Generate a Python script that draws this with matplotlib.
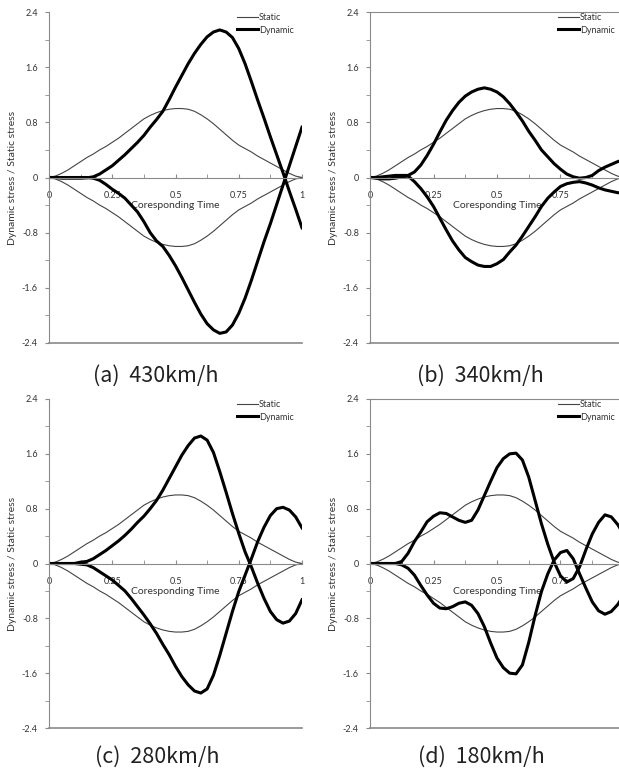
import matplotlib
matplotlib.use("Agg")
import matplotlib.pyplot as plt
from matplotlib.ticker import MultipleLocator, FixedFormatter, FixedLocator
import numpy as np

# DATA
# corresponding time (0 -> 1)
t = [0, .025, .05, .075, .1, .125, .15, .175, .2, .225, .25, .275, .3, .325, .35, .375, .4,
     .425, .45, .475, .5, .525, .55, .575, .6, .625, .65, .675, .7, .725, .75, .775, .8,
     .825, .85, .875, .9, .925, .95, .975, 1]

# static stress ratio (upper fibre, lower fibre is the mirror)
static = [0, .02, .06, .11, .17, .23, .29, .34, .40, .45, .51, .57, .64, .71, .78, .85, .90,
          .94, .97, .99, 1.0, 1.0, .99, .96, .91, .85, .78, .70, .62, .54, .47, .42, .37,
          .31, .26, .21, .16, .11, .06, .02, 0]

# (a) 430km/h
dyn_a_up = [0, 0, -.01, -.01, -.01, -.01, -.005, .01, .05, .11, .17, .25, .33, .42, .51, .61, .73,
            .84, .96, 1.13, 1.31, 1.48, 1.65, 1.80, 1.93, 2.04, 2.11, 2.14, 2.11, 2.03, 1.87, 1.65, 1.39,
            1.12, .86, .59, .33, .07, -.20, -.46, -.73]
dyn_a_lo = [0, 0, 0, 0, 0, 0, 0, -.01, -.04, -.10, -.17, -.23, -.30, -.40, -.50, -.64, -.80,
            -.92, -1.00, -1.13, -1.28, -1.45, -1.63, -1.81, -1.98, -2.12, -2.21, -2.26, -2.24, -2.14, -1.97, -1.75, -1.49,
            -1.21, -.93, -.67, -.39, -.11, .17, .45, .73]

# (b) 340km/h
dyn_b_up = [0, 0, .01, .02, .03, .03, .03, .08, .18, .32, .48, .66, .83, .97, 1.09, 1.18, 1.24,
            1.28, 1.30, 1.28, 1.24, 1.17, 1.07, .95, .82, .67, .54, .40, .30, .20, .12, .05, .01,
            -.01, 0, .03, .10, .15, .19, .23, .26]
dyn_b_lo = [0, -.01, -.02, -.02, -.01, .01, .02, -.06, -.16, -.28, -.42, -.59, -.76, -.92, -1.05, -1.16, -1.22,
            -1.27, -1.29, -1.29, -1.25, -1.19, -1.08, -.98, -.85, -.71, -.57, -.42, -.30, -.21, -.13, -.09, -.07,
            -.06, -.08, -.11, -.15, -.18, -.20, -.22, -.23]

# (c) 280km/h
dyn_c_up = [0, 0, 0, 0, 0, .02, .03, .07, .13, .19, .26, .33, .41, .50, .60, .69, .80,
            .92, 1.07, 1.24, 1.41, 1.58, 1.72, 1.83, 1.86, 1.80, 1.62, 1.34, 1.04, .73, .44, .17, -.05,
            -.29, -.51, -.70, -.82, -.87, -.84, -.73, -.53]
dyn_c_lo = [0, 0, 0, 0, 0, -.01, -.02, -.06, -.12, -.18, -.24, -.32, -.40, -.51, -.63, -.75, -.88,
            -1.02, -1.18, -1.33, -1.50, -1.65, -1.77, -1.86, -1.89, -1.83, -1.63, -1.34, -1.02, -.70, -.41, -.17, .07,
            .32, .53, .70, .80, .82, .78, .68, .52]

# (d) 180km/h
dyn_d_up = [0, 0, 0, 0, 0, .03, .15, .32, .46, .61, .69, .74, .73, .68, .63, .60, .63,
            .78, .99, 1.20, 1.40, 1.53, 1.60, 1.61, 1.51, 1.26, .92, .58, .28, .02, -.18, -.27, -.22,
            -.05, .20, .43, .60, .71, .68, .57, .42]
dyn_d_lo = [0, 0, 0, 0, 0, -.02, -.07, -.17, -.32, -.46, -.58, -.65, -.66, -.63, -.58, -.56, -.61,
            -.73, -.92, -1.16, -1.38, -1.52, -1.60, -1.61, -1.48, -1.15, -.76, -.41, -.15, .05, .16, .19, .07,
            -.15, -.36, -.56, -.69, -.74, -.70, -.60, -.46]

captions = ["(a)  430km/h", "(b)  340km/h", "(c)  280km/h", "(d)  180km/h"]
x_ticks = [0, 0.25, 0.5, 0.75, 1]
x_labels = ["0", "0.25", "0.5", "0.75", "1"]
y_ticks = [-2.4, -1.6, -0.8, 0, 0.8, 1.6, 2.4]
y_labels = ["-2.4", "-1.6", "-0.8", "0", "0.8", "1.6", "2.4"]

W, H = 619, 773
FONT = "Lato"
GRAY = "#8a8a8a"
TXT = "#333333"


def draw_panel(rect, up, lo, caption, cap_xy, top_spine, last_label=True):
    # rect in pixels: left, top, width, height
    l, tp, w, h = rect
    ax = fig.add_axes([l / W, 1 - (tp + h) / H, w / W, h / H])
    ax.set_xlim(0, 1)
    ax.set_ylim(-2.4, 2.4)

    s = np.array(static)
    st, = ax.plot(t, s, color="#444444", lw=0.8)
    ax.plot(t, -s, color="#444444", lw=0.8)
    dy, = ax.plot(t, up, color="black", lw=2.2, solid_joinstyle="round")
    ax.plot(t, lo, color="black", lw=2.2, solid_joinstyle="round")

    # frame
    ax.spines["right"].set_visible(False)
    ax.spines["top"].set_visible(top_spine)
    ax.spines["top"].set_color(GRAY)
    ax.spines["left"].set_color(GRAY)
    ax.spines["bottom"].set_position(("data", 0))
    ax.spines["bottom"].set_color(GRAY)
    ax.axhline(-2.4, color=GRAY, lw=1.2, clip_on=False)

    # x axis on the zero line
    labs = list(x_labels)
    if not last_label:
        labs[-1] = ""  # off the picture edge
    ax.xaxis.set_major_locator(FixedLocator(x_ticks))
    ax.xaxis.set_major_formatter(FixedFormatter(labs))
    ax.xaxis.set_minor_locator(MultipleLocator(0.125))
    ax.tick_params(axis="x", which="both", direction="in", length=3, color=GRAY,
                   pad=10, labelsize=6.5, labelcolor=TXT)
    ax.set_xlabel("Coresponding Time", fontsize=7.5, color=TXT, family=FONT)
    ax.xaxis.set_label_coords(0.5, 0.5 - 24 / h)

    # y axis
    ax.yaxis.set_major_locator(FixedLocator(y_ticks))
    ax.yaxis.set_major_formatter(FixedFormatter(y_labels))
    ax.yaxis.set_minor_locator(MultipleLocator(0.4))
    ax.tick_params(axis="y", which="both", direction="out", length=3, color=GRAY,
                   pad=5, labelsize=6.5, labelcolor=TXT)
    ax.set_ylabel("Dynamic stress / Static stress", fontsize=7.5, color=TXT, family=FONT)
    ax.yaxis.set_label_coords(-32 / w, 0.5)
    for lab in ax.get_xticklabels() + ax.get_yticklabels():
        lab.set_family(FONT)

    leg = ax.legend([st, dy], ["Static", "Dynamic"], loc="upper left",
                    bbox_to_anchor=(188 / w, 1 - 1 / h), frameon=False, borderpad=0,
                    borderaxespad=0, handlelength=2.3, handletextpad=0.1,
                    labelspacing=0.4, prop={"family": FONT, "size": 6.5})
    for txt in leg.get_texts():
        txt.set_color(TXT)

    fig.text(cap_xy[0] / W, 1 - cap_xy[1] / H, caption, ha="center", va="center",
             fontsize=15.5, color="#222222", family="Noto Sans CJK KR", fontweight="light")
    return ax


fig = plt.figure(figsize=(W / 100, H / 100), dpi=100)
draw_panel((49, 12, 253, 331), dyn_a_up, dyn_a_lo, captions[0], (156, 376), False)
draw_panel((370, 12, 254, 331), dyn_b_up, dyn_b_lo, captions[1], (480, 376), True, False)
draw_panel((49, 399, 253, 329), dyn_c_up, dyn_c_lo, captions[2], (157, 757), False)
draw_panel((370, 399, 254, 329), dyn_d_up, dyn_d_lo, captions[3], (481, 757), True, False)

fig.savefig("out.png", dpi=100)
